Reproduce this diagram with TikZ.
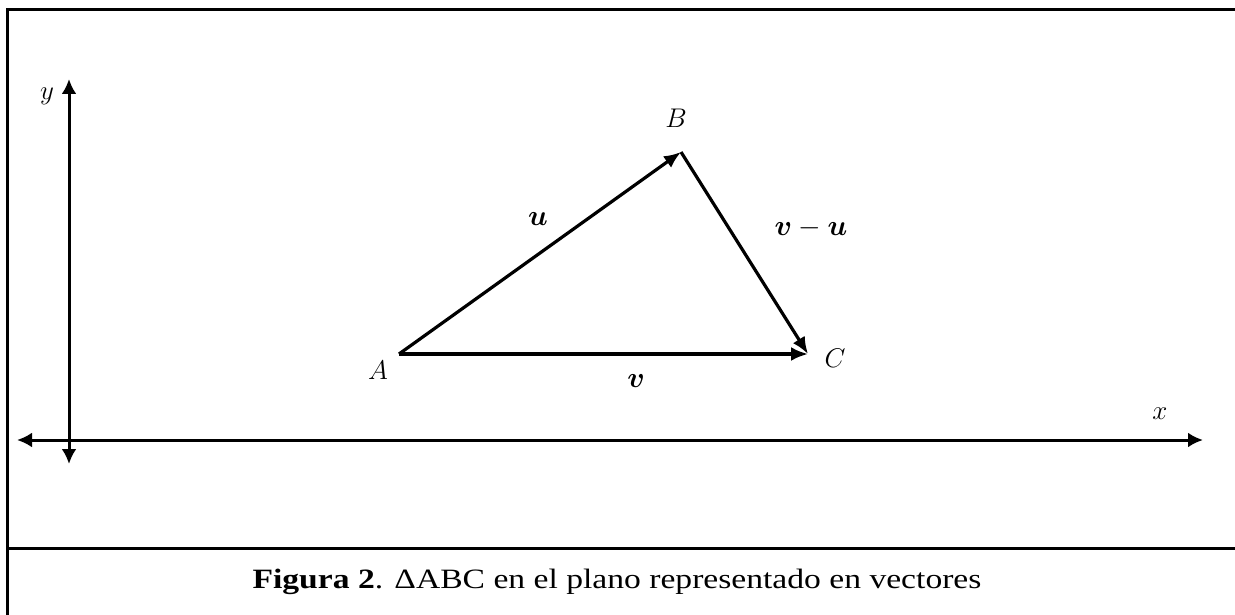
\RequirePackage{fix-cm}
\documentclass[tikz,border=0pt]{standalone}
\usepackage{fontspec}
\setmainfont{Liberation Serif}
\usepackage{amsmath,bm}
\usetikzlibrary{arrows.meta}
\begin{document}
\begin{tikzpicture}[x=1pt,y=-1pt,
  frameline/.style={line width=3pt},
  axis/.style={line width=3pt,{Latex[length=15pt,width=15pt]}-{Latex[length=15pt,width=15pt]}},
  vec/.style={line width=3.2pt,-{Latex[length=17pt,width=14pt]}},
  lbl/.style={font=\fontsize{27}{31}\selectfont,inner sep=0pt},
  blbl/.style={font=\fontsize{29}{33}\selectfont,inner sep=0pt}]
\useasboundingbox (0,0) rectangle (1235,615);
\fill[white] (0,0) rectangle (1235,615);
% frame
\coordinate (tl) at (7,10);
\coordinate (tr) at (1236,10);
\coordinate (bl) at (7,616);
\coordinate (dl) at (7,548);
\coordinate (dr) at (1236,548);
\draw[frameline] (tr) -- (tl) -- (bl);
\draw[frameline] (dl) -- (dr);
% axes
\coordinate (ytop) at (69,79);
\coordinate (ybot) at (69,464);
\coordinate (xl) at (17,440);
\coordinate (xr) at (1203,440);
\draw[axis] (ybot) -- (ytop);
\draw[axis] (xl) -- (xr);
\node[lbl] (ylab) at (47,96) {$y$};
\node[lbl] (xlab) at (1160,414) {$x$};
% triangle
\coordinate (A) at (399,354);
\coordinate (B) at (681,152);
\coordinate (C) at (808,354);
\draw[vec] (A) -- (B);
\draw[vec] (A) -- (C);
\draw[vec] (B) -- (C);
\node[lbl] (Alab) at (378,370) {$A$};
\node[lbl] (Blab) at (676,118) {$B$};
\node[lbl] (Clab) at (835,358) {$C$};
\node[blbl] (ulab) at (538,219) {$\bm{u}$};
\node[blbl] (vlab) at (636,381) {$\bm{v}$};
\node[blbl] (vulab) at (811,228) {$\bm{v}-\bm{u}$};
% caption
\node[inner sep=0pt] (cap) at (617,582) {\scalebox{1.2}[1]{\fontsize{28}{32}\selectfont\textbf{Figura 2}. ΔABC en el plano representado en vectores}};
\end{tikzpicture}
\end{document}
